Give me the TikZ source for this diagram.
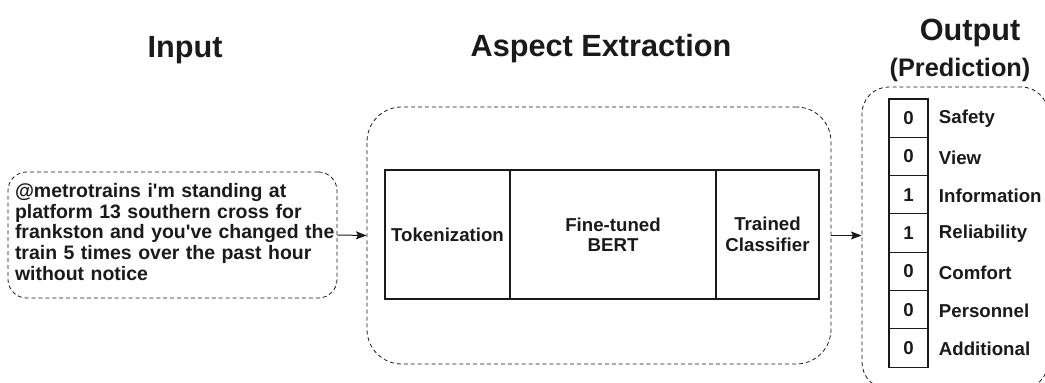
\documentclass[tikz,border=0pt]{standalone}
\usepackage{fontspec}
\setmainfont{Liberation Sans}
\usetikzlibrary{arrows.meta}
\definecolor{ink}{HTML}{1A1A1A}
\newcommand\pxu{0.75pt}
\newcommand\apos{\textquotesingle}

\begin{document}
\begin{tikzpicture}[x=0.75pt,y=-0.75pt,line width=0.75pt,>={Stealth[length=8pt,width=6pt,inset=1.5pt]},
  font=\bfseries\fontsize{14}{15.4}\selectfont,text=ink,
  group/.style={draw=ink,dash pattern=on 3pt off 2.2pt,line width=0.6pt},
  stage/.style={draw=ink,line width=1.5pt,align=center,inner sep=0pt},
  cell/.style={draw=ink,line width=0.8pt,minimum width=39*\pxu,minimum height=38.3*\pxu,inner sep=0pt},
  heading/.style={font=\bfseries\fontsize{23}{27}\selectfont}]
  \useasboundingbox (0,0) rectangle (1045,382);
  % titles
  \node[heading] (tIn) at (185,50) {Input};
  \node[heading] (tAsp) at (601,49) {Aspect Extraction};
  \node[heading] (tOut) at (970,33) {Output};
  \node[font=\bfseries\fontsize{19}{22}\selectfont] (tPred) at (960,70) {(Prediction)};
  % input tweet
  \node[group,rounded corners=14pt,minimum width=329*\pxu,minimum height=126*\pxu] (tweet) at (172.5,235) {};
  \node[text width=322*\pxu,align=left,inner sep=0pt,font=\bfseries\fontsize{14.6}{15.5}\selectfont]
    (tweetText) at (176,232)
    {@metrotrains i\apos m standing at platform 13 southern cross for frankston and you\apos ve changed the train 5 times over the past hour without notice};
  % aspect extraction pipeline
  \node[group,rounded corners=26pt,minimum width=464*\pxu,minimum height=257*\pxu] (pipe) at (599,235.5) {};
  \node[stage,minimum width=125*\pxu,minimum height=129*\pxu] (tok) at (447.5,234.5) {Tokenization};
  \node[stage,minimum width=206*\pxu,minimum height=129*\pxu] (bert) at (613,234.5) {Fine-tuned\\BERT};
  \node[stage,minimum width=103*\pxu,minimum height=129*\pxu] (clf) at (767.5,234.5) {Trained\\Classifier};
  % output labels
  \node[group,rounded corners=20pt,minimum width=186*\pxu,minimum height=302*\pxu] (out) at (955,238) {};
  \foreach \v/\lab [count=\i] in {0/Safety,0/View,1/Information,1/Reliability,0/Comfort,0/Personnel,0/Additional}{
    \node[cell] (c\i) at (908.5,{99+38.3*(\i-0.5)}) {\v};
    \node[anchor=west] (l\i) at (934,{100+38.3*(\i-0.5)}) {\lab};
  }
  % arrows
  \draw[->,draw=ink] (tweet.east) -- (pipe.west);
  \draw[->,draw=ink] (pipe.east) -- (pipe.east -| out.west);
\end{tikzpicture}
\end{document}
